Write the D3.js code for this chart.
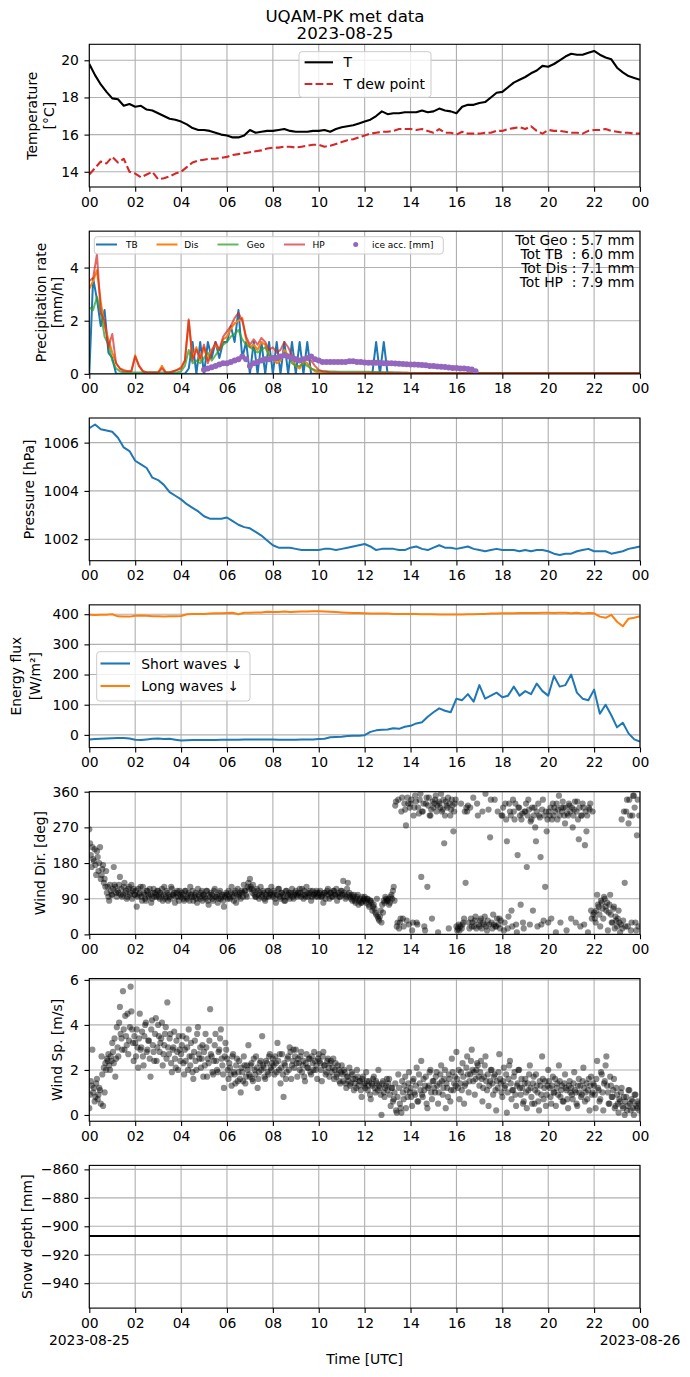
<!DOCTYPE html>
<html>
<head>
<meta charset="utf-8">
<script src="https://cdn.jsdelivr.net/npm/d3@7"></script>
<style>
  body { margin: 0; background: #fff; }
  svg text { font-family: "DejaVu Sans", sans-serif; }
</style>
</head>
<body>
<svg id="fig" width="690" height="1377"></svg>
<script>
// ---------- data ----------
const xTicks = [0, 2, 4, 6, 8, 10, 12, 14, 16, 18, 20, 22, 24];
const xTickLabels = ["00", "02", "04", "06", "08", "10", "12", "14", "16", "18", "20", "22", "00"];
const dateLabels = ["2023-08-25", "2023-08-26"];

// 15-minute series, 00:00 -> 24:00
const tempT = [
  19.8, 19.2, 18.7, 18.3,   17.95, 17.9, 17.55, 17.65,  17.5, 17.55, 17.35, 17.3,
  17.15, 17.0, 16.85, 16.8, 16.7, 16.55, 16.35, 16.25,  16.25, 16.2, 16.1, 16.0,
  15.95, 15.85, 15.85, 15.95, 16.25, 16.1, 16.15, 16.2, 16.2, 16.25, 16.3, 16.2,
  16.15, 16.15, 16.15, 16.2, 16.2, 16.25, 16.15, 16.3,  16.4, 16.45, 16.5, 16.6,
  16.7, 16.8, 17.0, 17.25,  17.1, 17.15, 17.15, 17.2,   17.2, 17.2, 17.3, 17.2,
  17.25, 17.4, 17.3, 17.25, 17.15, 17.5, 17.6, 17.6,    17.7, 17.75, 18.0, 18.25,
  18.3, 18.55, 18.8, 18.95, 19.1, 19.3, 19.45, 19.7,    19.65, 19.8, 20.0, 20.2,
  20.35, 20.3, 20.3, 20.4,  20.5, 20.3, 20.15, 20.05,   19.6, 19.35, 19.15, 19.05,
  18.95
];
const tempDew = [
  13.85, 14.2, 14.55, 14.45, 14.8, 14.5, 14.7, 14.0,    13.9, 13.7, 13.85, 14.0,
  13.6, 13.65, 13.75, 13.9, 14.0, 14.25, 14.5, 14.6,    14.65, 14.7, 14.7, 14.75,
  14.8, 14.9, 14.95, 15.0,  15.05, 15.1, 15.15, 15.25,  15.3, 15.3, 15.35, 15.35,
  15.3, 15.35, 15.4, 15.45, 15.45, 15.35, 15.4, 15.5,   15.6, 15.7, 15.75, 15.85,
  15.95, 16.05, 16.1, 16.15, 16.15, 16.2, 16.3, 16.3,   16.3, 16.25, 16.3, 16.2,
  16.1, 16.3, 16.1, 16.1,   16.0, 16.15, 16.05, 16.05,  16.05, 16.1, 16.1, 16.2,
  16.2, 16.3, 16.35, 16.4,  16.3, 16.45, 16.2, 16.05,   16.25, 16.2, 16.2, 16.15,
  16.1, 16.1, 16.05, 16.2,  16.25, 16.25, 16.3, 16.2,   16.15, 16.1, 16.1, 16.05,
  16.05
];
const pressure = [
  1006.6, 1006.75, 1006.55, 1006.5,  1006.45, 1006.2, 1005.8, 1005.65,
  1005.25, 1005.1, 1004.95, 1004.55, 1004.45, 1004.25, 1003.95, 1003.8,
  1003.65, 1003.45, 1003.3, 1003.15, 1002.95, 1002.85, 1002.85, 1002.85,
  1002.9, 1002.75, 1002.6, 1002.5,   1002.45, 1002.3, 1002.15, 1001.95,
  1001.75, 1001.65, 1001.65, 1001.65, 1001.6, 1001.55, 1001.55, 1001.55,
  1001.55, 1001.6, 1001.6, 1001.55,  1001.6, 1001.65, 1001.7, 1001.75,
  1001.8, 1001.7, 1001.55, 1001.6,   1001.6, 1001.6, 1001.55, 1001.55,
  1001.65, 1001.7, 1001.6, 1001.55,  1001.65, 1001.75, 1001.65, 1001.65,
  1001.6, 1001.65, 1001.7, 1001.6,   1001.55, 1001.5, 1001.55, 1001.6,
  1001.55, 1001.55, 1001.55, 1001.5, 1001.55, 1001.5, 1001.55, 1001.55,
  1001.5, 1001.4, 1001.35, 1001.4,   1001.4, 1001.5, 1001.55, 1001.6,
  1001.5, 1001.5, 1001.5, 1001.4,    1001.45, 1001.5, 1001.6, 1001.65,
  1001.7
];
const swDown = [
  -15, -14, -13, -12,  -11, -10, -10, -12,  -16, -17, -15, -13,  -12, -14, -13, -16,
  -19, -18, -17, -17,  -17, -17, -17, -16,  -16, -16, -16, -15,  -15, -15, -15, -15,
  -15, -16, -16, -16,  -16, -15, -15, -15,  -14, -13, -8, -7,    -6, -4, -3, -3,
  -1, 10, 15, 17,      18, 22, 20, 27,      30, 38, 42, 60,      75, 88, 80, 75,
  120, 115, 135, 110,  165, 120, 130, 140,  125, 130, 160, 130,  145, 135, 170, 145,
  130, 195, 160, 165,  200, 140, 120, 115,  150, 70, 100, 65,    25, 40, 5, -15,
  -22
];
const lwDown = [
  398, 397, 398, 398,  400, 393, 392, 392,  395, 396, 395, 393,  393, 392, 393, 393,
  394, 400, 401, 401,  401, 402, 403, 403,  404, 405, 400, 405,  405, 406, 406, 408,
  407, 407, 409, 407,  408, 409, 409, 410,  410, 409, 408, 407,  406, 405, 404, 404,
  403, 402, 402, 402,  402, 401, 401, 401,  401, 401, 400, 400,  400, 399, 399, 399,
  399, 399, 400, 400,  401, 401, 402, 402,  403, 403, 403, 404,  404, 404, 404, 405,
  405, 404, 405, 405,  403, 405, 402, 404,  403, 392, 388, 398,  375, 360, 385, 388,
  393
];

// precipitation rate, 10-minute steps 00:00 -> 14:00, then 24:00
const precipTB = [
  0, 3.6, 2.8, 1.8, 2.4, 0.8,   0.6, 0, 0, 0, 0, 0,   0, 0, 0, 0, 0, 0,   0, 0, 0, 0, 0, 0,
  0, 0, 0.2, 1.2, 0, 1.2,       0, 1.2, 0.6, 1.2, 0.6, 1.2,   1.2, 1.8, 1.2, 2.4, 0.6, 1.2,
  0, 1.2, 0, 1.2, 0, 1.2,       0, 1.2, 0, 1.2, 0, 1.2,       0, 1.2, 0, 1.2, 0, 0,
  0, 0, 0, 0, 0, 0,   0, 0, 0, 0, 0, 0,   0, 0, 0, 1.2, 0, 1.2,   0, 0, 0, 0, 0, 0,
  0, 0
];
const precipDis = [
  3.2, 3.5, 3.9, 2.7, 1.8, 1.3,   0.8, 0.4, 0.2, 0.15, 0.1, 0.1,   0.7, 0.3, 0.1, 0.05, 0.05, 0.05,
  0.05, 0.3, 0.05, 0.05, 0.1, 0.15,   0.25, 0.5, 2.0, 0.6, 1.0, 0.5,   1.0, 0.5, 0.9, 1.1, 0.9, 1.3,
  1.4, 1.7, 1.9, 2.0, 2.1, 1.3,   1.0, 1.1, 0.9, 1.2, 1.1, 0.7,   0.6, 0.4, 0.5, 0.9, 0.7, 0.5,
  0.3, 0.2, 0.5, 0.4, 0.2, 0.1,   0.05, 0.03, 0.03, 0.03, 0.03, 0.03,
  0.03, 0.03, 0.03, 0.03, 0.03, 0.03,   0.03, 0.03, 0.03, 0.03, 0.03, 0.03,
  0.03, 0.03, 0.03, 0.03, 0.03, 0.03,   0.03, 0.03
];
const precipGeo = [
  2.5, 2.4, 2.9, 2.3, 1.4, 1.1,   0.5, 0.2, 0.1, 0.05, 0.05, 0.05,   0.05, 0.05, 0.05, 0.05, 0.05, 0.05,
  0.05, 0.05, 0.05, 0.05, 0.05, 0.05,   0.1, 0.3, 0.9, 0.4, 0.5, 0.4,   0.6, 0.8, 0.5, 0.7, 0.9, 1.1,
  1.2, 1.4, 1.5, 1.65, 1.3, 1.1,   1.0, 0.9, 0.8, 0.9, 1.0, 0.7,   0.6, 0.5, 0.6, 0.8, 0.7, 0.4,
  0.3, 0.3, 0.4, 0.3, 0.2, 0.15,   0.12, 0.1, 0.1, 0.09, 0.09, 0.08,
  0.08, 0.08, 0.08, 0.08, 0.08, 0.08,   0.08, 0.08, 0.07, 0.07, 0.07, 0.06,
  0.06, 0.06, 0.05, 0.05, 0.04, 0.04,   0.03, 0.03
];
const precipHP = [
  3.5, 3.6, 4.5, 2.3, 2.0, 1.0,   1.5, 0.4, 0.2, 0.1, 0.1, 0.1,   0.65, 0.3, 0.1, 0.05, 0.05, 0.05,
  0.05, 0.2, 0.05, 0.05, 0.1, 0.15,   0.2, 0.5, 2.05, 0.5, 0.9, 0.6,   1.1, 0.4, 0.8, 1.2, 0.9, 1.4,
  1.6, 1.8, 2.1, 2.3, 2.0, 1.4,   1.1, 1.3, 1.1, 1.35, 1.2, 0.9,   1.0, 0.8, 0.9, 1.2, 1.0, 0.7,
  0.6, 0.5, 0.6, 0.6, 0.5, 0.3,   0.15, 0.1, 0.08, 0.06, 0.05, 0.05,
  0.04, 0.04, 0.04, 0.04, 0.04, 0.04,   0.04, 0.04, 0.04, 0.04, 0.04, 0.04,
  0.04, 0.04, 0.04, 0.04, 0.04, 0.04,   0.03, 0.03
];
// ice accumulation, 10-minute steps 05:00 -> 16:50
const iceAcc = [
  0.15, 0.2, 0.25, 0.3, 0.35, 0.4,   0.4, 0.45, 0.5, 0.55, 0.65, 0.55,
  0.3, 0.4, 0.45, 0.5, 0.55, 0.55,   0.6, 0.6, 0.65, 0.7, 0.65, 0.6,
  0.55, 0.5, 0.55, 0.6, 0.65, 0.55,  0.5, 0.45, 0.45, 0.45, 0.45, 0.45,
  0.45, 0.45, 0.47, 0.47, 0.45, 0.45, 0.43, 0.42, 0.42, 0.42, 0.41, 0.4,
  0.4, 0.4, 0.39, 0.38, 0.37, 0.36,  0.35, 0.35, 0.34, 0.33, 0.32, 0.3,
  0.3, 0.28, 0.27, 0.26, 0.24, 0.22, 0.22, 0.2, 0.2, 0.18, 0.16, 0.1
];
const precipTotals = ["Tot Geo : 5.7 mm", "Tot TB  : 6.0 mm", "Tot Dis : 7.1 mm", "Tot HP  : 7.9 mm"];

// wind, 2-minute samples (one row per hour)
const windDir = [
  265,230,200,170,220,190,185,215,175,150,210,195,160,180,220,140,150,165,175,130,140,120,160,105,120,95,85,125,110,100,
  100,115,170,125,120,105,95,110,105,125,145,100,115,95,100,120,130,105,110,90,95,115,120,100,105,125,90,110,115,100,
  100,110,70,95,115,100,105,120,95,85,120,105,100,90,85,110,110,100,95,115,100,80,90,105,115,95,105,100,95,110,
  110,95,90,105,100,115,85,100,120,90,95,110,105,85,100,95,90,120,115,100,100,105,80,95,105,110,95,85,110,100,
  95,105,100,90,85,110,110,95,90,100,105,85,120,100,95,110,85,95,100,105,90,80,115,100,95,90,105,110,85,100,
  100,95,90,110,110,85,75,100,95,105,100,90,85,110,115,95,95,100,80,90,105,110,90,95,100,85,70,100,95,105,
  100,90,110,95,90,105,120,100,95,85,105,110,80,100,115,95,100,105,90,110,105,95,125,110,110,100,95,120,130,115,
  140,120,115,105,125,110,100,95,95,115,110,100,90,105,120,95,100,110,105,90,85,100,95,110,110,95,100,105,120,100,
  95,110,105,90,80,100,100,115,115,95,90,105,105,100,95,85,85,110,110,95,100,105,90,100,105,115,95,90,100,105,
  110,100,95,105,100,115,105,95,115,100,90,110,100,95,120,105,95,100,105,110,85,95,110,100,100,105,95,110,105,95,
  100,105,110,95,95,100,80,105,105,90,100,110,115,100,90,105,105,95,95,110,110,100,100,115,85,100,105,95,95,110,
  110,100,135,105,100,90,95,115,130,100,105,95,90,100,85,95,100,85,80,90,95,100,75,85,90,80,80,95,85,90,
  95,85,80,90,90,75,70,85,85,80,60,70,75,65,55,50,90,45,40,35,45,60,30,75,55,85,80,95,90,85,
  85,90,75,80,95,100,90,110,120,85,325,335,20,30,340,15,30,40,310,345,40,20,330,315,275,35,345,330,25,320,
  330,340,10,30,300,320,350,335,30,25,320,305,340,355,145,310,310,330,20,10,330,345,120,325,345,300,300,315,40,335,
  320,330,340,350,310,325,5,335,330,320,355,310,315,340,230,300,335,325,320,345,15,330,300,315,340,325,260,310,330,340,
  20,10,15,25,10,20,330,15,25,30,40,310,130,320,310,325,30,15,320,40,20,30,345,20,35,45,15,330,300,25,
  20,35,40,15,310,30,25,45,355,20,10,35,315,25,245,340,30,15,50,25,340,20,20,40,310,25,40,15,35,300,
  300,320,10,30,330,290,235,15,45,330,310,300,60,20,340,310,290,330,25,5,200,320,320,300,75,290,305,30,15,310,
  310,330,170,300,340,315,25,285,290,320,60,300,320,270,235,310,20,330,300,295,195,25,315,340,35,300,120,310,260,290,
  30,310,300,320,40,290,330,300,320,310,5,330,290,315,350,300,30,320,310,335,320,300,280,320,10,305,300,330,325,310,
  40,320,270,300,315,335,30,310,335,290,240,320,20,300,300,330,320,25,225,310,260,300,5,320,315,330,60,40,310,50,
  55,40,30,60,100,75,70,50,20,85,80,65,40,95,90,70,60,80,10,55,75,100,50,30,30,65,70,15,45,35,
  20,40,60,30,5,25,290,15,35,310,130,20,310,340,20,280,340,300,10,30,300,350,350,320,30,10,250,340,20,300
];
const windSpeed = [
  0.3,0.9,1.5,1.3,2.9,1.0,1.2,0.6,0.8,1.4,1.6,0.7,0.9,1.2,1.1,0.5,2.6,1.8,0.4,2.1,1.0,2.3,2.0,2.5,2.4,2.7,2.2,2.0,2.6,2.4,
  3.2,2.8,2.3,3.4,1.7,2.5,3.9,3.0,2.6,4.1,4.8,3.6,3.4,2.9,5.5,3.8,2.9,4.4,3.5,3.1,4.5,2.7,3.3,3.9,5.7,4.6,3.8,3.2,2.4,3.5,
  3.2,2.6,3.8,3.0,2.1,3.4,4.5,2.9,3.0,3.7,2.6,2.2,3.5,4.0,4.1,2.8,2.9,3.3,3.3,2.5,1.7,3.8,4.2,3.1,2.8,2.4,3.6,4.3,2.4,3.0,
  4.0,3.5,2.8,3.2,3.4,4.1,2.2,2.7,3.1,3.6,3.9,2.5,5.0,3.0,2.7,3.4,3.6,2.3,1.9,2.9,3.0,3.7,2.5,2.1,3.3,2.8,2.0,3.5,2.9,2.4,
  2.7,3.1,3.5,2.3,1.8,2.9,2.4,3.4,3.0,2.0,3.8,2.6,2.2,3.2,2.6,1.9,1.6,2.8,3.3,2.4,2.0,3.6,3.9,2.7,2.5,3.0,2.1,2.5,3.1,1.7,
  2.8,2.2,3.6,3.0,1.7,2.5,2.3,3.3,4.7,2.7,2.6,1.9,1.8,2.4,3.1,3.6,2.4,2.0,1.9,2.8,2.9,3.4,3.8,2.5,2.2,1.8,1.2,2.6,3.2,2.9,
  2.5,2.0,1.6,2.3,2.1,1.8,1.3,2.6,2.7,1.9,1.8,1.4,2.2,2.5,1.5,1.9,2.4,1.6,1.0,2.1,1.9,1.5,2.6,2.2,1.4,1.7,2.2,2.0,3.1,1.8,
  1.7,2.2,2.3,1.6,1.5,2.5,2.0,1.8,2.6,2.1,1.2,1.6,1.9,2.3,2.4,2.0,3.5,2.2,2.1,1.7,1.6,2.4,2.3,1.9,1.8,2.6,2.7,2.1,2.0,2.3,
  2.5,2.2,1.8,2.6,2.3,1.9,3.2,2.4,2.0,2.7,1.4,2.1,2.7,1.8,0.8,2.3,2.2,1.6,1.9,2.5,2.6,2.0,3.0,2.8,1.6,2.2,2.4,2.9,2.1,2.6,
  2.9,2.3,1.7,2.5,2.3,2.0,2.6,2.8,1.9,2.2,2.4,1.7,1.5,2.3,2.7,2.1,2.1,2.5,2.5,1.9,1.8,2.6,2.3,2.0,2.8,2.4,2.0,2.2,1.6,2.5,
  2.7,2.4,2.3,2.0,1.5,2.6,2.8,2.2,2.2,1.8,1.9,2.4,2.5,2.1,1.7,2.3,2.4,1.9,2.1,2.5,1.6,2.0,2.3,1.7,1.8,2.2,2.0,1.5,1.4,1.9,
  2.2,1.8,1.5,2.0,1.9,1.4,1.2,1.7,1.7,1.5,2.1,1.3,1.4,1.9,1.8,1.6,1.1,1.4,1.6,1.2,2.0,1.7,1.3,1.5,1.5,1.1,0.8,1.6,1.7,1.3,
  1.4,1.2,1.9,1.5,1.1,1.3,1.5,0.9,0.7,1.4,1.3,1.6,1.7,1.2,1.0,1.5,1.4,1.1,2.0,1.3,1.2,0.9,0.0,1.4,1.5,1.0,0.8,1.2,1.3,1.6,
  1.1,1.4,1.6,0.9,0.4,1.2,1.2,0.6,0.7,1.0,1.4,0.2,0.1,0.8,1.8,1.2,0.5,0.3,0.1,1.5,1.0,0.7,1.3,1.7,0.3,1.1,0.8,1.4,1.9,1.0,
  1.2,0.8,0.4,1.5,1.6,1.0,0.9,1.3,2.1,0.6,0.6,1.8,1.4,1.1,2.4,0.9,0.8,1.6,1.1,1.3,1.7,0.5,0.3,1.2,1.3,1.9,2.0,1.0,0.7,1.5,
  1.5,1.2,1.0,1.7,1.9,1.3,0.5,1.0,1.4,1.8,2.2,1.5,0.9,1.2,1.6,2.0,0.3,1.4,1.2,0.8,1.8,1.6,0.6,1.1,2.5,1.9,1.1,1.4,1.7,1.3,
  2.8,1.6,1.2,2.0,0.7,1.4,1.9,1.1,2.3,1.7,0.5,1.3,1.4,2.1,2.6,1.8,1.0,1.5,1.8,2.4,2.9,2.0,1.5,1.9,0.9,1.6,2.0,2.3,2.2,1.7,
  1.3,1.9,2.4,1.6,0.6,1.2,1.7,2.2,2.6,1.5,1.1,1.8,0.4,1.3,1.5,2.0,2.0,1.4,0.9,1.7,1.8,1.1,0.2,1.5,1.2,1.9,2.7,1.6,1.4,1.0,
  0.8,1.5,2.1,1.2,1.3,1.8,0.1,1.0,1.6,2.2,2.4,1.4,0.7,1.1,1.1,1.7,1.9,0.9,0.4,1.3,1.4,2.0,2.0,1.2,0.9,1.6,1.2,0.5,0.6,1.4,
  1.6,1.0,0.3,1.4,1.1,1.8,2.2,1.2,0.8,0.5,1.4,1.7,0.5,1.1,1.8,1.3,1.0,0.6,0.2,1.5,1.3,0.9,2.6,1.6,0.7,1.2,1.5,0.4,0.9,1.3,
  2.0,1.5,1.2,0.8,0.5,1.3,1.7,1.0,1.0,1.6,0.4,1.2,1.4,0.9,2.2,1.5,0.8,1.1,1.3,0.6,0.6,1.4,1.8,1.2,1.1,0.7,0.3,1.3,1.5,1.0,
  1.2,0.9,0.7,1.4,1.9,1.1,1.0,0.5,0.4,1.3,1.6,1.0,1.3,0.8,0.9,1.5,2.1,1.2,0.6,1.0,1.4,0.7,1.1,1.6,0.2,1.3,1.7,0.9,1.0,1.4,
  1.3,0.9,0.3,1.6,2.4,1.2,1.1,0.6,0.7,1.9,1.8,1.0,0.2,1.4,1.5,2.2,2.6,1.3,1.0,0.5,0.5,1.7,1.3,0.8,0.8,1.1,1.6,0.3,0.4,1.2,
  0.9,0.5,0.1,0.7,0.6,1.0,1.2,0.4,0.3,0.8,0.0,0.6,0.8,0.2,0.4,1.1,1.1,0.5,0.2,0.7,0.6,0.3,0.0,0.9,0.9,0.4,0.3,0.6,0.5,0.2
];
const snowDepth = [-906.8, -906.8];

// time axes (hours) for the series above
const t15 = d3.range(tempT.length).map(i => i / 4);
const tPrecip = d3.range(precipTB.length - 1).map(i => i / 6).concat([24]);
const tIce = d3.range(iceAcc.length).map(i => 5 + i / 6);
const tWind = d3.range(windDir.length).map(i => i / 30);
const tSnow = [0, 24];

// ---------- layout ----------
const FONT = 13.9;
const X0 = 89.3, X1 = 640;
const TOP0 = 44.3, STEP = 186.85, PH = 142.7;
const TICK = 4.86;
const GRID = "#b0b0b0";
const C = { blue: "#1f77b4", orange: "#ff7f0e", green: "#2ca02c", red: "#d62728", purple: "#9467bd" };

const svg = d3.select("#fig");
const x = d3.scaleLinear().domain([0, 24]).range([X0, X1]);

function panel(i, domain, ticks, fmt, labels) {
  const top = TOP0 + i * STEP, bottom = top + PH;
  const y = d3.scaleLinear().domain(domain).range([bottom, top]);
  const root = svg.append("g");

  root.append("clipPath").attr("id", "clip" + i)
    .append("rect").attr("x", X0).attr("y", top).attr("width", X1 - X0).attr("height", PH);

  const grid = root.append("g").attr("stroke", GRID).attr("stroke-width", 1.1);
  grid.selectAll("line.v").data(xTicks).join("line").attr("class", "v")
    .attr("x1", d => x(d)).attr("x2", d => x(d)).attr("y1", top).attr("y2", bottom);
  grid.selectAll("line.h").data(ticks).join("line").attr("class", "h")
    .attr("x1", X0).attr("x2", X1).attr("y1", d => y(d)).attr("y2", d => y(d));

  const plot = root.append("g").attr("clip-path", `url(#clip${i})`);
  const over = root.append("g");

  const gx = over.append("g").attr("transform", `translate(0,${bottom})`)
    .call(d3.axisBottom(x).tickValues(xTicks).tickFormat((d, k) => xTickLabels[k])
      .tickSize(TICK).tickPadding(4.9));
  const gy = over.append("g").attr("transform", `translate(${X0},0)`)
    .call(d3.axisLeft(y).tickValues(ticks).tickFormat(fmt).tickSize(TICK).tickPadding(5.5));
  [gx, gy].forEach(a => {
    a.select(".domain").remove();
    a.selectAll("line").attr("stroke", "#000").attr("stroke-width", 1.1);
    a.selectAll("text").attr("font-size", FONT).attr("font-family", "DejaVu Sans").attr("fill", "#000");
  });

  over.append("rect").attr("x", X0).attr("y", top).attr("width", X1 - X0).attr("height", PH)
    .attr("fill", "none").attr("stroke", "#000").attr("stroke-width", 1.1);

  const cy = (top + bottom) / 2;
  labels.forEach(l => {
    over.append("text")
      .attr("transform", `translate(${l.x},${cy}) rotate(-90)`)
      .attr("text-anchor", "middle").attr("dominant-baseline", "central")
      .attr("font-size", FONT).text(l.text);
  });

  return { plot, over, y, top, bottom };
}

function drawLine(p, xs, ys, color, width, extra) {
  const line = d3.line().x((d, k) => x(xs[k])).y(d => p.y(d));
  const path = p.plot.append("path").datum(ys).attr("d", line)
    .attr("fill", "none").attr("stroke", color).attr("stroke-width", width)
    .attr("stroke-linejoin", "round");
  if (extra) Object.entries(extra).forEach(([k, v]) => path.attr(k, v));
  return path;
}

function scatter(p, xs, ys) {
  p.plot.selectAll("circle").data(ys).join("circle")
    .attr("cx", (d, k) => x(xs[k])).attr("cy", d => p.y(d)).attr("r", 3.1)
    .attr("fill", "#000").attr("fill-opacity", 0.45);
}

function legendBox(g, x0, y0, w, h) {
  g.append("rect").attr("x", x0).attr("y", y0).attr("width", w).attr("height", h).attr("rx", 3)
    .attr("fill", "#fff").attr("fill-opacity", 0.8).attr("stroke", "#cccccc").attr("stroke-width", 1);
}

const fmtInt = d => d3.format("d")(d).replace("-", "\u2212");

// ---------- title ----------
svg.append("text").attr("x", 345).attr("y", 22).attr("text-anchor", "middle")
  .attr("font-size", 16.67).text("UQAM-PK met data");
svg.append("text").attr("x", 345).attr("y", 39).attr("text-anchor", "middle")
  .attr("font-size", 16.67).text("2023-08-25");

// ---------- 1: temperature ----------
const p1 = panel(0, [13.18, 20.86], [14, 16, 18, 20], fmtInt,
  [{ x: 31.8, text: "Temperature" }, { x: 49.4, text: "[°C]" }]);
drawLine(p1, t15, tempT, "#000", 2.1);
drawLine(p1, t15, tempDew, C.red, 2.1, { "stroke-dasharray": "7.7,3.3" });
legendBox(p1.over, 299, 51.7, 132, 45.6);
p1.over.append("line").attr("x1", 304.6).attr("x2", 333).attr("y1", 62.3).attr("y2", 62.3)
  .attr("stroke", "#000").attr("stroke-width", 2.1);
p1.over.append("line").attr("x1", 304.6).attr("x2", 333).attr("y1", 84).attr("y2", 84)
  .attr("stroke", C.red).attr("stroke-width", 2.1).attr("stroke-dasharray", "7.7,3.3");
p1.over.append("text").attr("x", 343.5).attr("y", 62.3).attr("dominant-baseline", "central")
  .attr("font-size", FONT).text("T");
p1.over.append("text").attr("x", 343.5).attr("y", 84).attr("dominant-baseline", "central")
  .attr("font-size", FONT).text("T dew point");

// ---------- 2: precipitation ----------
const p2 = panel(1, [0, 5.37], [0, 2, 4], fmtInt,
  [{ x: 40.6, text: "Precipitation rate" }, { x: 57.4, text: "[mm/h]" }]);
drawLine(p2, tPrecip, precipTB, C.blue, 2);
drawLine(p2, tPrecip, precipDis, C.orange, 2);
drawLine(p2, tPrecip, precipGeo, C.green, 2, { "stroke-opacity": 0.75 });
drawLine(p2, tPrecip, precipHP, C.red, 2, { "stroke-opacity": 0.7 });
p2.plot.selectAll("circle.ice").data(iceAcc).join("circle").attr("class", "ice")
  .attr("cx", (d, k) => x(tIce[k])).attr("cy", d => p2.y(d)).attr("r", 3)
  .attr("fill", C.purple);

legendBox(p2.over, 94.3, 236.7, 349, 17.3);
const precipLegend = [
  { name: "TB", color: C.blue, op: 1, lx: 96, tx: 126 },
  { name: "Dis", color: C.orange, op: 1, lx: 156.5, tx: 184.3 },
  { name: "Geo", color: C.green, op: 0.75, lx: 217.5, tx: 246.7 },
  { name: "HP", color: C.red, op: 0.7, lx: 284, tx: 312.5 }
];
precipLegend.forEach(e => {
  p2.over.append("line").attr("x1", e.lx).attr("x2", e.lx + 21).attr("y1", 244.5).attr("y2", 244.5)
    .attr("stroke", e.color).attr("stroke-opacity", e.op).attr("stroke-width", 2);
  p2.over.append("text").attr("x", e.tx).attr("y", 244.5).attr("dominant-baseline", "central")
    .attr("font-size", 9).text(e.name);
});
p2.over.append("circle").attr("cx", 355.7).attr("cy", 244.5).attr("r", 2.5).attr("fill", C.purple);
p2.over.append("text").attr("x", 372).attr("y", 244.5).attr("dominant-baseline", "central")
  .attr("font-size", 9).text("ice acc. [mm]");

precipTotals.forEach((s, k) => {
  p2.over.append("text").attr("x", 634.5).attr("y", 239.7 + k * 14)
    .attr("text-anchor", "end").attr("dominant-baseline", "central")
    .attr("font-size", FONT).style("white-space", "pre").text(s);
});

// ---------- 3: pressure ----------
const p3 = panel(2, [1001.11, 1007.02], [1002, 1004, 1006], fmtInt,
  [{ x: 29.1, text: "Pressure [hPa]" }]);
drawLine(p3, t15, pressure, C.blue, 2);

// ---------- 4: radiation ----------
const p4 = panel(3, [-42, 431], [0, 100, 200, 300, 400], fmtInt,
  [{ x: 16, text: "Energy flux" }, { x: 35, text: "[W/m²]" }]);
drawLine(p4, t15, swDown, C.blue, 2);
drawLine(p4, t15, lwDown, C.orange, 2);
legendBox(p4.over, 96.7, 651.7, 153.3, 49.3);
[{ name: "Short waves \u2193", color: C.blue, y: 663.5 }, { name: "Long waves \u2193", color: C.orange, y: 686 }]
  .forEach(e => {
    p4.over.append("line").attr("x1", 100.5).attr("x2", 130).attr("y1", e.y).attr("y2", e.y)
      .attr("stroke", e.color).attr("stroke-width", 2.1);
    p4.over.append("text").attr("x", 141.3).attr("y", e.y).attr("dominant-baseline", "central")
      .attr("font-size", FONT).text(e.name);
  });

// ---------- 5: wind direction ----------
const p5 = panel(4, [0, 360], [0, 90, 180, 270, 360], fmtInt,
  [{ x: 39.7, text: "Wind Dir. [deg]" }]);
scatter(p5, tWind, windDir);

// ---------- 6: wind speed ----------
const p6 = panel(5, [-0.28, 6.06], [0, 2, 4, 6], fmtInt,
  [{ x: 56.5, text: "Wind Sp. [m/s]" }]);
scatter(p6, tWind, windSpeed);

// ---------- 7: snow depth ----------
const p7 = panel(6, [-957.5, -857.2], [-940, -920, -900, -880, -860], fmtInt,
  [{ x: 26.5, text: "Snow depth [mm]" }]);
drawLine(p7, tSnow, snowDepth, "#000", 2.1);

[0, 24].forEach((h, k) => {
  p7.over.append("text").attr("x", x(h)).attr("y", p7.bottom + 36.6)
    .attr("text-anchor", "middle").attr("font-size", FONT).text(dateLabels[k]);
});
p7.over.append("text").attr("x", (X0 + X1) / 2).attr("y", 1364)
  .attr("text-anchor", "middle").attr("font-size", FONT).text("Time [UTC]");
</script>
</body>
</html>
